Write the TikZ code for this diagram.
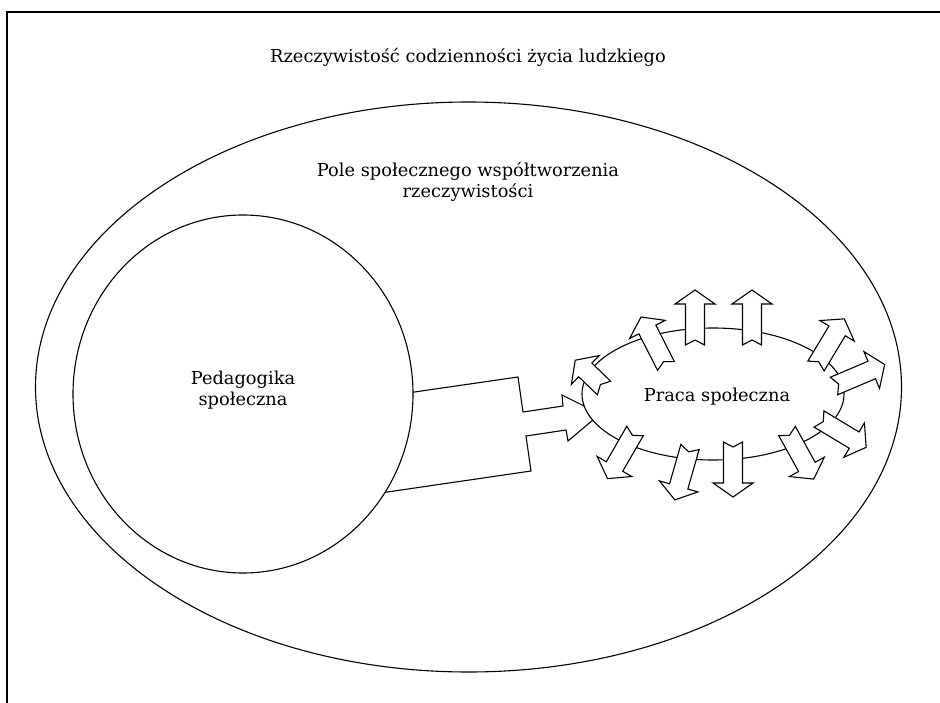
\documentclass[tikz,border=0pt]{standalone}
\usepackage{fontspec}
\setmainfont{DejaVu Serif}
\usetikzlibrary{shapes.geometric}
\tikzset{
  outline/.style={draw=black, line width=1.1pt, fill=white, line join=miter},
  lbl/.style={font=\fontsize{17.8}{21.5}\selectfont, align=center, inner sep=0pt},
  oval/.style={ellipse, outline, inner sep=0pt},
  pics/outarrow/.style={code={
    \draw[outline] (0,9.5) -- ({#1-14},9.5) -- ({#1-14},20) -- (#1,0)
      -- ({#1-14},-20) -- ({#1-14},-9.5) -- (0,-9.5) -- (5,0) -- cycle;}},
  pics/outarrow/.default=55
}
\begin{document}
\begin{tikzpicture}[x=1pt,y=-1pt]
\useasboundingbox (0,0) rectangle (940,703);
\clip (0,0) rectangle (940,703);
% page frame
\draw[line width=1.5pt] (7,12) rectangle (1000,800);
\node[lbl] (title) at (468,57) {Rzeczywistość codzienności życia ludzkiego};
% field of social co-creation
\node[oval, minimum width=866, minimum height=570] (field) at (468.5,387) {};
\node[lbl] (fieldlbl) at (468,182) {Pole społecznego współtworzenia\\rzeczywistości};
% zig-zag link between the two disciplines
\draw[outline] (380,397) -- (518,377) -- (523,412) -- (563,406) -- (562,395)
  -- (600,414) -- (568,441) -- (566,430) -- (526,436) -- (531,471) -- (360,496);
\node[oval, minimum width=340, minimum height=358] (ped) at (243,394) {};
\node[lbl] (pedlbl) at (243,390) {Pedagogika\\społeczna};
\node[oval, minimum width=262, minimum height=132] (praca) at (713,394) {};
\node[lbl] (pracalbl) at (717,397) {Praca społeczna};
% arrows radiating out of social work
\path (695,345) pic[rotate=90] {outarrow};
\path (752,345) pic[rotate=90] {outarrow};
\path (666,366) pic[rotate=117] {outarrow};
\path (816,366) pic[rotate=59] {outarrow};
\path (834,386) pic[rotate=23] {outarrow};
\path (819,419) pic[rotate=-31] {outarrow};
\path (787,431) pic[rotate=-61] {outarrow};
\path (733,442) pic[rotate=-90] {outarrow};
\path (690,447) pic[rotate=-106] {outarrow};
\path (635,431) pic[rotate=-120] {outarrow};
\path (604,388) pic[rotate=136] {outarrow=40};
\end{tikzpicture}
\end{document}
